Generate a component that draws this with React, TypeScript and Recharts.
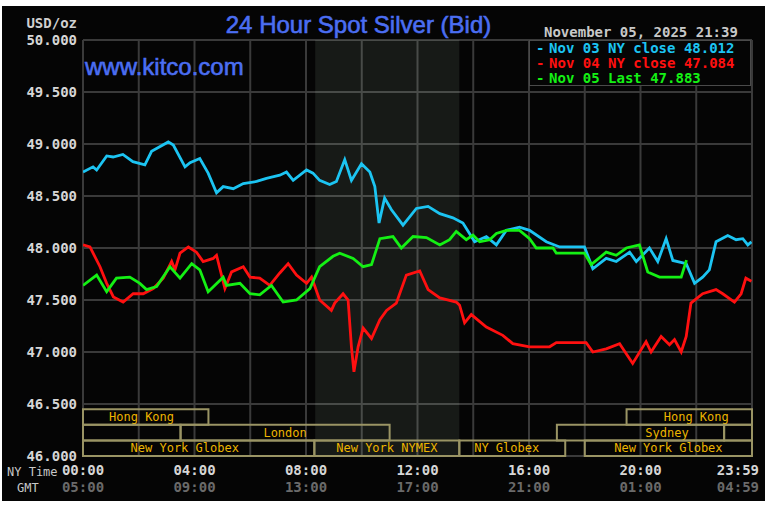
import React from "react";
import { LineChart, Line, XAxis, YAxis, CartesianGrid, ReferenceArea } from "recharts";

// axis ticks
const hourTicks = [0, 2, 4, 6, 8, 10, 12, 14, 16, 18, 20, 22, 24];
const nyTimeLabels: Record<number, string> = { 0: "00:00", 4: "04:00", 8: "08:00", 12: "12:00", 16: "16:00", 20: "20:00", 24: "23:59" };
const gmtLabels: Record<number, string> = { 0: "05:00", 4: "09:00", 8: "13:00", 12: "17:00", 16: "21:00", 20: "01:00", 24: "04:59" };
const priceTicks = [46, 46.5, 47, 47.5, 48, 48.5, 49, 49.5, 50];

// Nov 03 NY close (cyan), hours since 00:00 NY time
const nov03Hours = [0, 0.36, 0.49, 0.85, 1.08, 1.43, 1.79, 2.22, 2.46, 3.06, 3.24, 3.66, 3.84, 4.19, 4.49, 4.79, 5.03, 5.39, 5.75, 6.23, 6.58, 7.06, 7.3, 7.54, 8.02, 8.25, 8.49, 8.85, 9.09, 9.39, 9.63, 9.99, 10.29, 10.47, 10.62, 10.82, 11.06, 11.48, 11.96, 12.38, 12.8, 13.27, 13.63, 14.05, 14.47, 14.83, 15.19, 15.66, 16.02, 16.62, 17.1, 17.99, 18.29, 18.77, 19.13, 19.61, 19.85, 20.32, 20.62, 20.92, 21.16, 21.64, 21.94, 22.23, 22.47, 22.71, 23.13, 23.43, 23.67, 23.85, 23.98];
const nov03Prices = [48.73, 48.78, 48.75, 48.885, 48.875, 48.9, 48.83, 48.8, 48.93, 49.02, 48.99, 48.78, 48.82, 48.86, 48.72, 48.53, 48.59, 48.57, 48.62, 48.64, 48.67, 48.7, 48.73, 48.65, 48.75, 48.72, 48.65, 48.61, 48.64, 48.85, 48.65, 48.81, 48.73, 48.59, 48.24, 48.48, 48.37, 48.22, 48.38, 48.4, 48.33, 48.29, 48.24, 48.06, 48.11, 48.03, 48.17, 48.2, 48.17, 48.06, 48.01, 48.01, 47.8, 47.9, 47.87, 47.96, 47.87, 48.0, 47.87, 48.09, 47.88, 47.85, 47.66, 47.72, 47.79, 48.06, 48.12, 48.08, 48.09, 48.03, 48.06];

// Nov 04 NY close (red)
const nov04Hours = [0, 0.25, 0.61, 0.85, 1.09, 1.44, 1.8, 2.16, 2.52, 2.88, 3.18, 3.3, 3.48, 3.78, 4.07, 4.31, 4.67, 4.79, 5.09, 5.33, 5.75, 5.99, 6.34, 6.7, 7.06, 7.36, 7.66, 8.02, 8.2, 8.49, 8.91, 9.03, 9.33, 9.51, 9.63, 9.72, 9.87, 10.05, 10.35, 10.65, 10.89, 11.24, 11.6, 12.08, 12.38, 12.8, 13.39, 13.51, 13.69, 13.93, 14.47, 15.06, 15.42, 16.02, 16.74, 16.98, 18.05, 18.29, 18.77, 19.25, 19.72, 20.2, 20.38, 20.74, 21.04, 21.22, 21.46, 21.64, 21.81, 22.23, 22.71, 22.95, 23.37, 23.61, 23.78, 23.98];
const nov04Prices = [48.03, 48.01, 47.82, 47.66, 47.53, 47.48, 47.56, 47.56, 47.61, 47.71, 47.87, 47.79, 47.95, 48.01, 47.96, 47.87, 47.9, 47.93, 47.61, 47.77, 47.82, 47.72, 47.71, 47.64, 47.76, 47.85, 47.74, 47.66, 47.72, 47.5, 47.4, 47.47, 47.56, 47.5, 47.05, 46.81, 47.05, 47.23, 47.13, 47.31, 47.4, 47.47, 47.74, 47.78, 47.6, 47.52, 47.48, 47.45, 47.28, 47.36, 47.24, 47.16, 47.08, 47.05, 47.05, 47.09, 47.09, 47.0, 47.03, 47.08, 46.89, 47.1, 47.0, 47.15, 47.07, 47.12, 47.0, 47.15, 47.47, 47.56, 47.6, 47.56, 47.48, 47.56, 47.71, 47.68];

// Nov 05 last (green), up to 21:39
const nov05Hours = [0, 0.49, 0.85, 1.2, 1.68, 2.04, 2.28, 2.64, 3.12, 3.48, 3.9, 4.19, 4.49, 5.03, 5.15, 5.63, 5.99, 6.34, 6.76, 7.18, 7.66, 8.14, 8.49, 8.97, 9.21, 9.69, 10.05, 10.35, 10.65, 11.12, 11.42, 11.84, 12.32, 12.8, 13.15, 13.39, 13.75, 13.99, 14.23, 14.59, 14.83, 15.19, 15.66, 16.02, 16.26, 16.86, 16.98, 17.99, 18.23, 18.77, 19.13, 19.49, 19.96, 20.26, 20.68, 21.16, 21.46, 21.65];
const nov05Prices = [47.64, 47.74, 47.58, 47.71, 47.72, 47.66, 47.6, 47.63, 47.82, 47.71, 47.85, 47.79, 47.58, 47.72, 47.64, 47.66, 47.56, 47.55, 47.64, 47.48, 47.5, 47.61, 47.82, 47.92, 47.95, 47.9, 47.82, 47.84, 48.09, 48.11, 48.0, 48.11, 48.1, 48.03, 48.08, 48.16, 48.08, 48.125, 48.06, 48.08, 48.14, 48.17, 48.17, 48.09, 48.0, 48.0, 47.95, 47.95, 47.84, 47.96, 47.93, 48.0, 48.03, 47.77, 47.72, 47.72, 47.72, 47.883];

// trading sessions (NY hours); row 0 = top band
const sessions = [
  { name: "Hong Kong", start: 0, end: 4.5, row: 0, labelAt: 2.1 },
  { name: "Hong Kong", start: 19.5, end: 24, row: 0, labelAt: 22.0 },
  { name: "", start: 0, end: 3.5, row: 1 },
  { name: "London", start: 3.5, end: 11, row: 1 },
  { name: "Sydney", start: 17, end: 23, row: 1, labelAt: 20.95 },
  { name: "", start: 23, end: 24, row: 1 },
  { name: "New York Globex", start: 0, end: 8.3, row: 2, labelAt: 3.65 },
  { name: "New York NYMEX", start: 8.3, end: 13.5, row: 2 },
  { name: "NY Globex", start: 13.5, end: 17.3, row: 2, labelAt: 15.2 },
  { name: "New York Globex", start: 18, end: 24, row: 2 },
];
const rowBands = [[46.3, 46.45], [46.15, 46.3], [46.0, 46.15]];
const nymexOpen = 8.33;
const nymexClose = 13.5;

const zip = (hours: number[], prices: number[]) => hours.map((h, i) => ({ h, v: prices[i] }));
const nov03 = zip(nov03Hours, nov03Prices);
const nov04 = zip(nov04Hours, nov04Prices);
const nov05 = zip(nov05Hours, nov05Prices);

const MONO = "'DejaVu Sans Mono', monospace";
const SANS = "'Liberation Sans', Arial, sans-serif";

function TimeTick({ x, y, payload }: any) {
  const v = payload.value;
  if (nyTimeLabels[v] === undefined) return <g />;
  const last = v === 24;
  return (
    <g>
      <text x={last ? x + 7 : x} y={y + 19} textAnchor={last ? "end" : "middle"} fill="#d6d6d6" fontSize={14} fontWeight="bold" fontFamily={MONO}>
        {nyTimeLabels[v]}
      </text>
      <text x={last ? x + 7 : x} y={y + 36} textAnchor={last ? "end" : "middle"} fill="#6a6a6a" fontSize={14} fontWeight="bold" fontFamily={MONO}>
        {gmtLabels[v]}
      </text>
    </g>
  );
}

function sessionLabel(name: string, start: number, end: number, at?: number) {
  return (props: any) => {
    const { x, y, width, height } = props.viewBox;
    const cx = x + ((at ?? (start + end) / 2) - start) * (width / (end - start));
    return (
      <text x={cx} y={y + height / 2} textAnchor="middle" dominantBaseline="central" fill="#ecb400" fontSize={12} fontFamily={MONO}>
        {name}
      </text>
    );
  };
}

const legendRows = [
  { color: "#1cc4f2", text: "Nov 03 NY close 48.012" },
  { color: "#ff1010", text: "Nov 04 NY close 47.084" },
  { color: "#14f014", text: "Nov 05 Last 47.883" },
];

export default function App() {
  return (
    <div style={{ position: "absolute", left: 0, top: 0, width: 770, height: 505, background: "#fff" }}>
      <div style={{ position: "absolute", left: 2, top: 6, width: 763, height: 495, background: "#050505" }} />
      <div style={{ position: "absolute", left: 0, top: 0 }}>
        <LineChart width={770} height={505} margin={{ top: 40, right: 18, left: 8, bottom: 9 }}>
          <ReferenceArea x1={nymexOpen} x2={nymexClose} y1={46} y2={50} fill="#e0ffe0" fillOpacity={0.085} stroke="none" />
          <CartesianGrid stroke="#3a3a3a" strokeWidth={2} />
          <XAxis type="number" dataKey="h" domain={[0, 24]} ticks={hourTicks} interval={0} height={40} axisLine={false} tickLine={false} tickSize={0} tickMargin={0} tick={<TimeTick />} allowDataOverflow />
          <YAxis type="number" domain={[46, 50]} ticks={priceTicks} interval={0} width={75} axisLine={false} tickLine={false} tickSize={0} tickMargin={6} tickFormatter={(v: number) => v.toFixed(3)} tick={{ fill: "#d6d6d6", fontSize: 14, fontWeight: "bold", fontFamily: MONO }} allowDataOverflow />
          {sessions.map((s, i) => (
            <ReferenceArea key={i} x1={s.start} x2={s.end} y1={rowBands[s.row][0]} y2={rowBands[s.row][1]} fill="none" stroke="#9a9464" strokeWidth={2} label={sessionLabel(s.name, s.start, s.end, s.labelAt)} />
          ))}
          <Line data={nov03} dataKey="v" type="linear" stroke="#1cc4f2" strokeWidth={2.8} dot={false} isAnimationActive={false} />
          <Line data={nov04} dataKey="v" type="linear" stroke="#ff1010" strokeWidth={2.8} dot={false} isAnimationActive={false} />
          <Line data={nov05} dataKey="v" type="linear" stroke="#14f014" strokeWidth={2.8} dot={false} isAnimationActive={false} />
        </LineChart>
      </div>

      <div style={{ position: "absolute", left: 358.5, top: 12.5, transform: "translateX(-50%)", whiteSpace: "nowrap", fontFamily: SANS, fontSize: 24, lineHeight: "24px", color: "#4b6ef2", WebkitTextStroke: "0.6px #4b6ef2" }}>
        24 Hour Spot Silver (Bid)
      </div>
      <div style={{ position: "absolute", left: 85, top: 54.5, whiteSpace: "nowrap", fontFamily: SANS, fontSize: 24, lineHeight: "24px", color: "#4b6ef2", WebkitTextStroke: "0.6px #4b6ef2" }}>
        www.kitco.com
      </div>
      <div style={{ position: "absolute", right: 770 - 77, top: 16, fontFamily: MONO, fontWeight: "bold", fontSize: 14, lineHeight: "14px", color: "#d0d0d0" }}>
        USD/oz
      </div>
      <div style={{ position: "absolute", left: 544, top: 24.5, whiteSpace: "nowrap", fontFamily: MONO, fontWeight: "bold", fontSize: 14, lineHeight: "14px", color: "#c8c8c8" }}>
        November 05, 2025 21:39
      </div>
      <div style={{ position: "absolute", left: 529, top: 40, width: 222, height: 46, background: "#050505", border: "1.5px solid #4a4a4a", boxSizing: "border-box" }} />
      {legendRows.map((r, i) => (
        <div key={i} style={{ position: "absolute", left: 536, top: 41 + i * 15, whiteSpace: "nowrap", fontFamily: MONO, fontWeight: "bold", fontSize: 14, lineHeight: "14px", color: r.color }}>
          <span>-</span>
          <span style={{ marginLeft: 4.6 }}>{r.text}</span>
        </div>
      ))}
      <div style={{ position: "absolute", left: 7, top: 466, fontFamily: MONO, fontSize: 12, lineHeight: "12px", color: "#c8c8c8", whiteSpace: "nowrap" }}>
        NY Time
      </div>
      <div style={{ position: "absolute", left: 17, top: 482, fontFamily: MONO, fontSize: 12, lineHeight: "12px", color: "#c8c8c8", whiteSpace: "nowrap" }}>
        GMT
      </div>
    </div>
  );
}
